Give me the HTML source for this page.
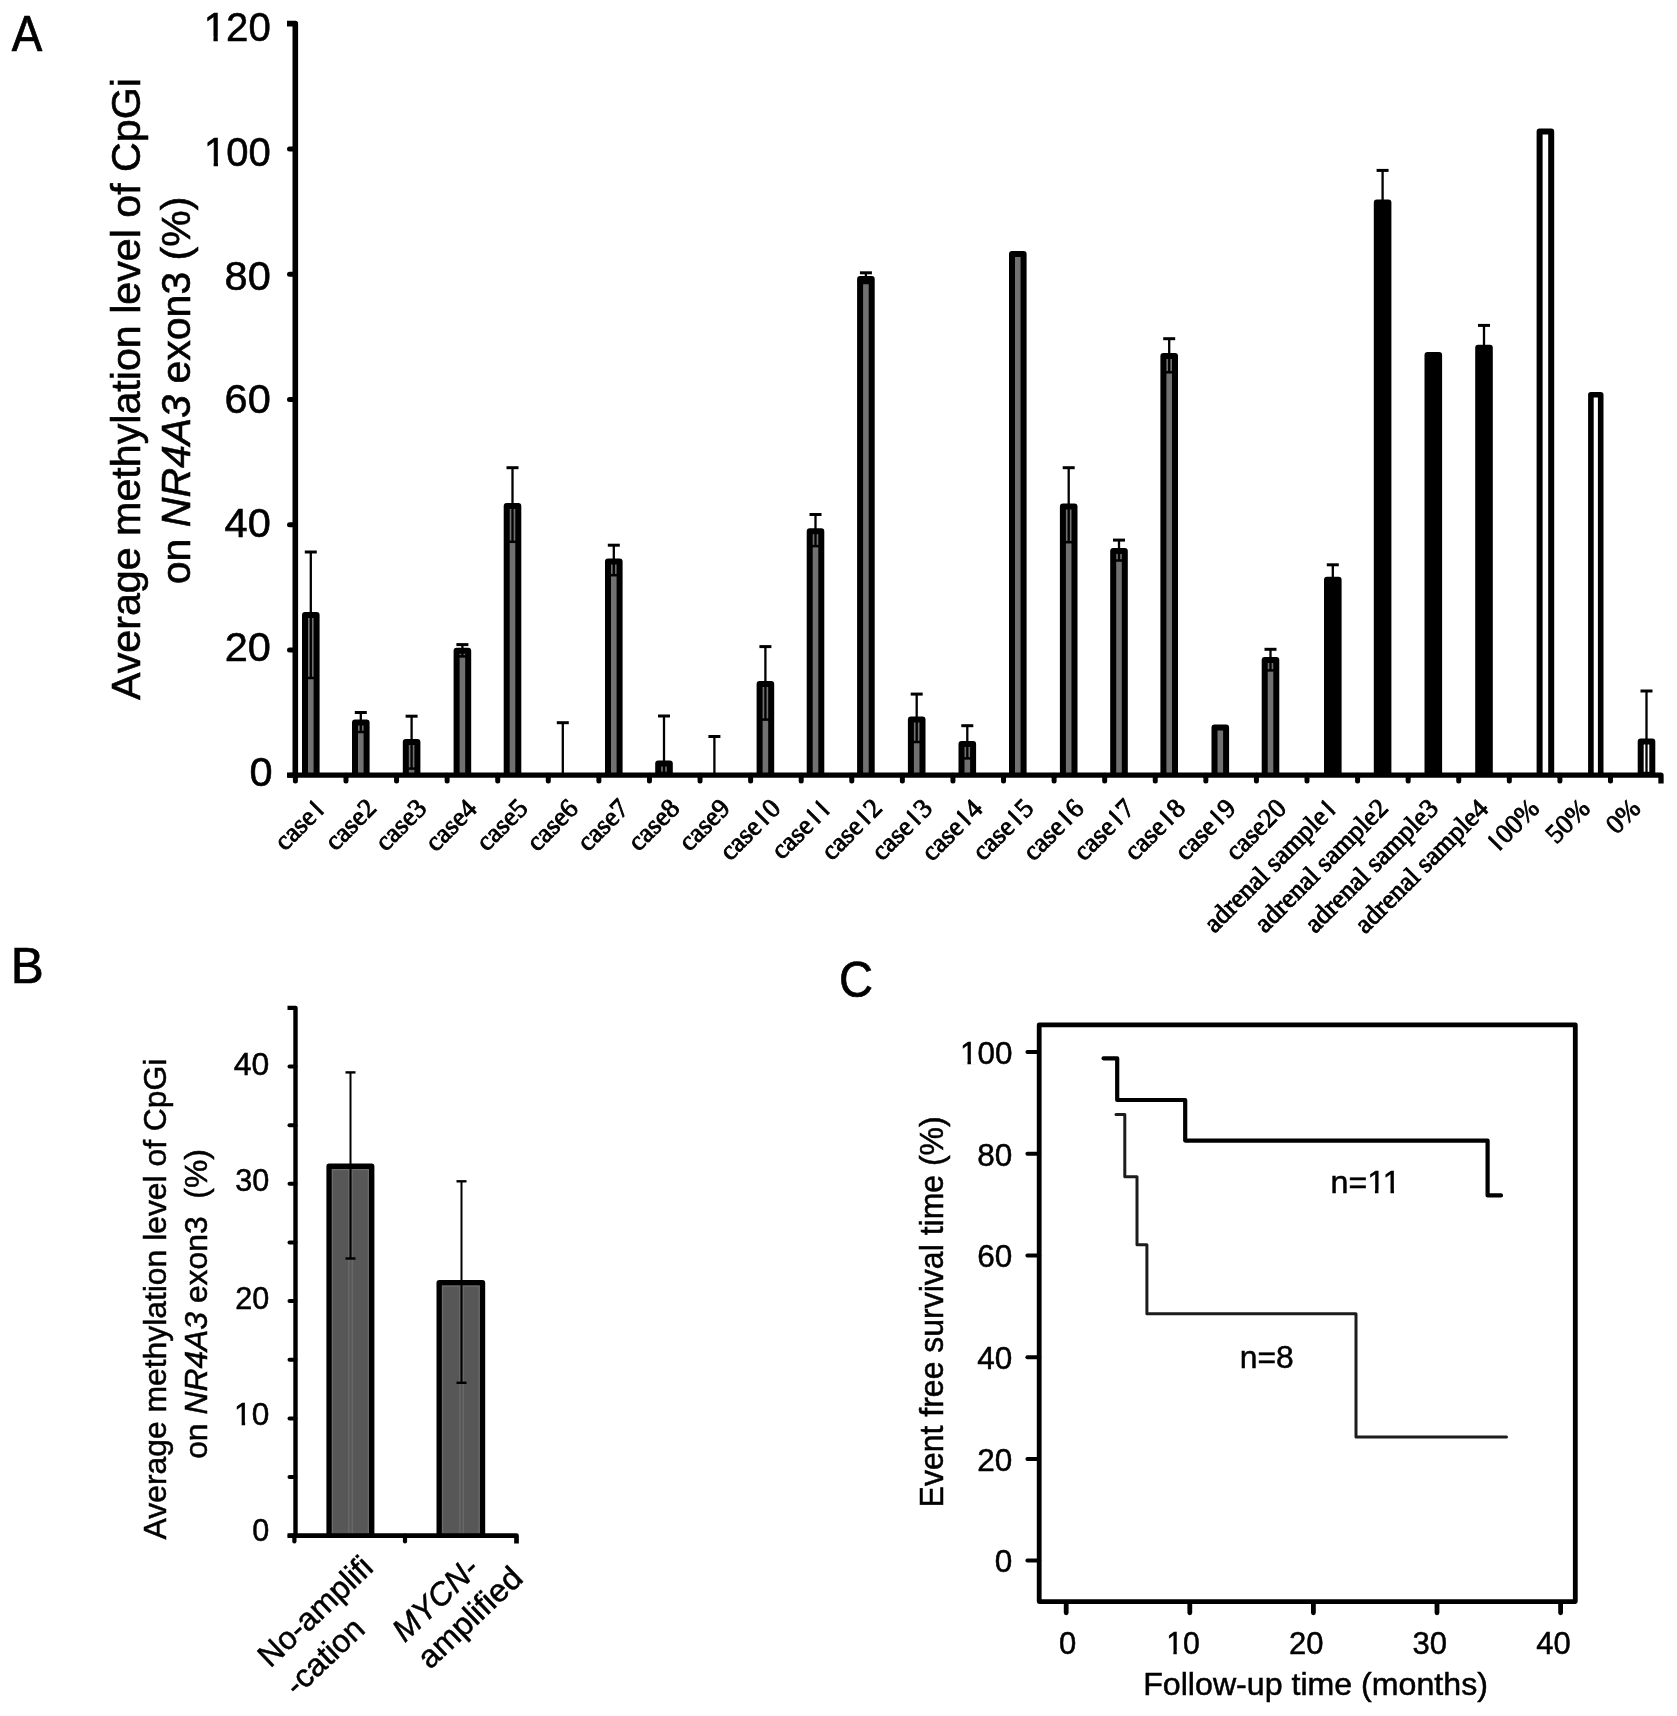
<!DOCTYPE html><html><head><meta charset="utf-8"><title>Figure</title><style>
html,body{margin:0;padding:0;background:#fff;width:1677px;height:1716px;overflow:hidden}
svg{display:block;will-change:transform}
</style></head><body>
<svg width="1677" height="1716" viewBox="0 0 1677 1716">
<rect width="1677" height="1716" fill="#fff"/>
<text transform="translate(11.80,51.00)" x="-0.12" y="0" font-family='"Liberation Sans", sans-serif' font-size="49.20" fill="#000" stroke="#000" stroke-width="0.70" textLength="30.51" lengthAdjust="spacingAndGlyphs" xml:space="preserve">A</text>
<text transform="translate(14.80,983.30)" x="-4.02" y="0" font-family='"Liberation Sans", sans-serif' font-size="49.20" fill="#000" stroke="#000" stroke-width="0.70" textLength="33.04" lengthAdjust="spacingAndGlyphs" xml:space="preserve">B</text>
<text transform="translate(841.40,996.60)" x="-2.39" y="0" font-family='"Liberation Sans", sans-serif' font-size="49.20" fill="#000" stroke="#000" stroke-width="0.70" textLength="34.05" lengthAdjust="spacingAndGlyphs" xml:space="preserve">C</text>
<path d="M287 23.6 H295.3 V778" fill="none" stroke="#000" stroke-width="5.6" stroke-linejoin="round"/>
<line x1="289.5" y1="775.20" x2="295.3" y2="775.20" stroke="#000" stroke-width="5" stroke-linecap="round"/>
<line x1="289.5" y1="649.96" x2="295.3" y2="649.96" stroke="#000" stroke-width="5" stroke-linecap="round"/>
<line x1="289.5" y1="524.72" x2="295.3" y2="524.72" stroke="#000" stroke-width="5" stroke-linecap="round"/>
<line x1="289.5" y1="399.48" x2="295.3" y2="399.48" stroke="#000" stroke-width="5" stroke-linecap="round"/>
<line x1="289.5" y1="274.24" x2="295.3" y2="274.24" stroke="#000" stroke-width="5" stroke-linecap="round"/>
<line x1="289.5" y1="149.00" x2="295.3" y2="149.00" stroke="#000" stroke-width="5" stroke-linecap="round"/>
<path d="M305.00 775.20 V615.00 H316.60 V775.20" fill="#717171" stroke="#000" stroke-width="6.0" stroke-linejoin="round"/>
<line x1="310.80" y1="552.00" x2="310.80" y2="678.00" stroke="#000" stroke-width="2.3"/>
<line x1="304.80" y1="552.00" x2="316.80" y2="552.00" stroke="#000" stroke-width="3"/>
<line x1="306.80" y1="678.00" x2="314.80" y2="678.00" stroke="#000" stroke-width="2.5"/>
<path d="M355.00 775.20 V722.60 H366.60 V775.20" fill="#717171" stroke="#000" stroke-width="6.0" stroke-linejoin="round"/>
<line x1="360.80" y1="712.50" x2="360.80" y2="732.00" stroke="#000" stroke-width="2.3"/>
<line x1="354.80" y1="712.50" x2="366.80" y2="712.50" stroke="#000" stroke-width="3"/>
<line x1="356.80" y1="732.00" x2="364.80" y2="732.00" stroke="#000" stroke-width="2.5"/>
<path d="M405.80 775.20 V742.00 H417.40 V775.20" fill="#717171" stroke="#000" stroke-width="6.0" stroke-linejoin="round"/>
<line x1="411.60" y1="716.20" x2="411.60" y2="768.60" stroke="#000" stroke-width="2.3"/>
<line x1="405.60" y1="716.20" x2="417.60" y2="716.20" stroke="#000" stroke-width="3"/>
<line x1="407.60" y1="768.60" x2="415.60" y2="768.60" stroke="#000" stroke-width="2.5"/>
<path d="M456.60 775.20 V650.80 H468.20 V775.20" fill="#717171" stroke="#000" stroke-width="6.0" stroke-linejoin="round"/>
<line x1="462.40" y1="644.60" x2="462.40" y2="656.40" stroke="#000" stroke-width="2.3"/>
<line x1="456.40" y1="644.60" x2="468.40" y2="644.60" stroke="#000" stroke-width="3"/>
<line x1="458.40" y1="656.40" x2="466.40" y2="656.40" stroke="#000" stroke-width="2.5"/>
<path d="M506.70 775.20 V506.00 H518.30 V775.20" fill="#717171" stroke="#000" stroke-width="6.0" stroke-linejoin="round"/>
<line x1="512.50" y1="467.70" x2="512.50" y2="541.80" stroke="#000" stroke-width="2.3"/>
<line x1="506.50" y1="467.70" x2="518.50" y2="467.70" stroke="#000" stroke-width="3"/>
<line x1="508.50" y1="541.80" x2="516.50" y2="541.80" stroke="#000" stroke-width="2.5"/>
<line x1="562.80" y1="722.70" x2="562.80" y2="775.20" stroke="#000" stroke-width="2.3"/>
<line x1="556.80" y1="722.70" x2="568.80" y2="722.70" stroke="#000" stroke-width="3"/>
<path d="M608.00 775.20 V561.50 H619.60 V775.20" fill="#717171" stroke="#000" stroke-width="6.0" stroke-linejoin="round"/>
<line x1="613.80" y1="545.20" x2="613.80" y2="575.20" stroke="#000" stroke-width="2.3"/>
<line x1="607.80" y1="545.20" x2="619.80" y2="545.20" stroke="#000" stroke-width="3"/>
<line x1="609.80" y1="575.20" x2="617.80" y2="575.20" stroke="#000" stroke-width="2.5"/>
<path d="M658.20 775.20 V763.40 H669.80 V775.20" fill="#717171" stroke="#000" stroke-width="6.0" stroke-linejoin="round"/>
<line x1="664.00" y1="716.00" x2="664.00" y2="773.00" stroke="#000" stroke-width="2.3"/>
<line x1="658.00" y1="716.00" x2="670.00" y2="716.00" stroke="#000" stroke-width="3"/>
<line x1="660.00" y1="773.00" x2="668.00" y2="773.00" stroke="#000" stroke-width="2.5"/>
<line x1="714.40" y1="736.50" x2="714.40" y2="775.20" stroke="#000" stroke-width="2.3"/>
<line x1="708.40" y1="736.50" x2="720.40" y2="736.50" stroke="#000" stroke-width="3"/>
<path d="M759.60 775.20 V683.90 H771.20 V775.20" fill="#717171" stroke="#000" stroke-width="6.0" stroke-linejoin="round"/>
<line x1="765.40" y1="646.60" x2="765.40" y2="719.60" stroke="#000" stroke-width="2.3"/>
<line x1="759.40" y1="646.60" x2="771.40" y2="646.60" stroke="#000" stroke-width="3"/>
<line x1="761.40" y1="719.60" x2="769.40" y2="719.60" stroke="#000" stroke-width="2.5"/>
<path d="M809.70 775.20 V531.20 H821.30 V775.20" fill="#717171" stroke="#000" stroke-width="6.0" stroke-linejoin="round"/>
<line x1="815.50" y1="514.50" x2="815.50" y2="546.10" stroke="#000" stroke-width="2.3"/>
<line x1="809.50" y1="514.50" x2="821.50" y2="514.50" stroke="#000" stroke-width="3"/>
<line x1="811.50" y1="546.10" x2="819.50" y2="546.10" stroke="#000" stroke-width="2.5"/>
<path d="M860.10 775.20 V278.90 H871.70 V775.20" fill="#717171" stroke="#000" stroke-width="6.0" stroke-linejoin="round"/>
<line x1="865.90" y1="272.80" x2="865.90" y2="283.00" stroke="#000" stroke-width="2.3"/>
<line x1="859.90" y1="272.80" x2="871.90" y2="272.80" stroke="#000" stroke-width="3"/>
<line x1="861.90" y1="283.00" x2="869.90" y2="283.00" stroke="#000" stroke-width="2.5"/>
<path d="M910.90 775.20 V719.60 H922.50 V775.20" fill="#717171" stroke="#000" stroke-width="6.0" stroke-linejoin="round"/>
<line x1="916.70" y1="694.10" x2="916.70" y2="742.00" stroke="#000" stroke-width="2.3"/>
<line x1="910.70" y1="694.10" x2="922.70" y2="694.10" stroke="#000" stroke-width="3"/>
<line x1="912.70" y1="742.00" x2="920.70" y2="742.00" stroke="#000" stroke-width="2.5"/>
<path d="M961.50 775.20 V744.00 H973.10 V775.20" fill="#717171" stroke="#000" stroke-width="6.0" stroke-linejoin="round"/>
<line x1="967.30" y1="725.70" x2="967.30" y2="758.40" stroke="#000" stroke-width="2.3"/>
<line x1="961.30" y1="725.70" x2="973.30" y2="725.70" stroke="#000" stroke-width="3"/>
<line x1="963.30" y1="758.40" x2="971.30" y2="758.40" stroke="#000" stroke-width="2.5"/>
<path d="M1012.00 775.20 V254.00 H1023.60 V775.20" fill="#717171" stroke="#000" stroke-width="6.0" stroke-linejoin="round"/>
<path d="M1062.90 775.20 V506.40 H1074.50 V775.20" fill="#717171" stroke="#000" stroke-width="6.0" stroke-linejoin="round"/>
<line x1="1068.70" y1="467.70" x2="1068.70" y2="542.20" stroke="#000" stroke-width="2.3"/>
<line x1="1062.70" y1="467.70" x2="1074.70" y2="467.70" stroke="#000" stroke-width="3"/>
<line x1="1064.70" y1="542.20" x2="1072.70" y2="542.20" stroke="#000" stroke-width="2.5"/>
<path d="M1113.20 775.20 V550.90 H1124.80 V775.20" fill="#717171" stroke="#000" stroke-width="6.0" stroke-linejoin="round"/>
<line x1="1119.00" y1="540.10" x2="1119.00" y2="560.50" stroke="#000" stroke-width="2.3"/>
<line x1="1113.00" y1="540.10" x2="1125.00" y2="540.10" stroke="#000" stroke-width="3"/>
<line x1="1115.00" y1="560.50" x2="1123.00" y2="560.50" stroke="#000" stroke-width="2.5"/>
<path d="M1163.40 775.20 V355.90 H1175.00 V775.20" fill="#717171" stroke="#000" stroke-width="6.0" stroke-linejoin="round"/>
<line x1="1169.20" y1="338.70" x2="1169.20" y2="372.30" stroke="#000" stroke-width="2.3"/>
<line x1="1163.20" y1="338.70" x2="1175.20" y2="338.70" stroke="#000" stroke-width="3"/>
<line x1="1165.20" y1="372.30" x2="1173.20" y2="372.30" stroke="#000" stroke-width="2.5"/>
<path d="M1214.50 775.20 V727.60 H1226.10 V775.20" fill="#717171" stroke="#000" stroke-width="6.0" stroke-linejoin="round"/>
<path d="M1264.70 775.20 V660.00 H1276.30 V775.20" fill="#717171" stroke="#000" stroke-width="6.0" stroke-linejoin="round"/>
<line x1="1270.50" y1="649.30" x2="1270.50" y2="670.40" stroke="#000" stroke-width="2.3"/>
<line x1="1264.50" y1="649.30" x2="1276.50" y2="649.30" stroke="#000" stroke-width="3"/>
<line x1="1266.50" y1="670.40" x2="1274.50" y2="670.40" stroke="#000" stroke-width="2.5"/>
<path d="M1327.00 775.20 V579.70 H1338.60 V775.20" fill="#000" stroke="#000" stroke-width="6.0" stroke-linejoin="round"/>
<line x1="1332.80" y1="564.80" x2="1332.80" y2="582.70" stroke="#000" stroke-width="2.3"/>
<line x1="1326.80" y1="564.80" x2="1338.80" y2="564.80" stroke="#000" stroke-width="3"/>
<path d="M1376.80 775.20 V202.50 H1388.40 V775.20" fill="#000" stroke="#000" stroke-width="6.0" stroke-linejoin="round"/>
<line x1="1382.60" y1="170.40" x2="1382.60" y2="205.50" stroke="#000" stroke-width="2.3"/>
<line x1="1376.60" y1="170.40" x2="1388.60" y2="170.40" stroke="#000" stroke-width="3"/>
<path d="M1427.50 775.20 V354.90 H1439.10 V775.20" fill="#000" stroke="#000" stroke-width="6.0" stroke-linejoin="round"/>
<path d="M1478.20 775.20 V347.70 H1489.80 V775.20" fill="#000" stroke="#000" stroke-width="6.0" stroke-linejoin="round"/>
<line x1="1484.00" y1="325.40" x2="1484.00" y2="350.70" stroke="#000" stroke-width="2.3"/>
<line x1="1478.00" y1="325.40" x2="1490.00" y2="325.40" stroke="#000" stroke-width="3"/>
<path d="M1539.60 775.20 V131.50 H1551.20 V775.20" fill="#fff" stroke="#000" stroke-width="6.0" stroke-linejoin="round"/>
<path d="M1590.90 775.20 V394.80 H1600.70 V775.20" fill="#fff" stroke="#000" stroke-width="5.6" stroke-linejoin="round"/>
<path d="M1640.70 775.20 V741.40 H1652.30 V775.20" fill="#fff" stroke="#000" stroke-width="6.0" stroke-linejoin="round"/>
<line x1="1646.50" y1="691.00" x2="1646.50" y2="773.00" stroke="#000" stroke-width="2.3"/>
<line x1="1640.50" y1="691.00" x2="1652.50" y2="691.00" stroke="#000" stroke-width="3"/>
<line x1="1642.50" y1="773.00" x2="1650.50" y2="773.00" stroke="#000" stroke-width="2.5"/>
<path d="M287 775.20 H1661.0 V783.5" fill="none" stroke="#000" stroke-width="5.3" stroke-linejoin="round"/>
<line x1="295.40" y1="775.2" x2="295.40" y2="781.0" stroke="#000" stroke-width="5" stroke-linecap="round"/>
<line x1="345.98" y1="775.2" x2="345.98" y2="781.0" stroke="#000" stroke-width="5" stroke-linecap="round"/>
<line x1="396.56" y1="775.2" x2="396.56" y2="781.0" stroke="#000" stroke-width="5" stroke-linecap="round"/>
<line x1="447.14" y1="775.2" x2="447.14" y2="781.0" stroke="#000" stroke-width="5" stroke-linecap="round"/>
<line x1="497.72" y1="775.2" x2="497.72" y2="781.0" stroke="#000" stroke-width="5" stroke-linecap="round"/>
<line x1="548.30" y1="775.2" x2="548.30" y2="781.0" stroke="#000" stroke-width="5" stroke-linecap="round"/>
<line x1="598.88" y1="775.2" x2="598.88" y2="781.0" stroke="#000" stroke-width="5" stroke-linecap="round"/>
<line x1="649.46" y1="775.2" x2="649.46" y2="781.0" stroke="#000" stroke-width="5" stroke-linecap="round"/>
<line x1="700.04" y1="775.2" x2="700.04" y2="781.0" stroke="#000" stroke-width="5" stroke-linecap="round"/>
<line x1="750.62" y1="775.2" x2="750.62" y2="781.0" stroke="#000" stroke-width="5" stroke-linecap="round"/>
<line x1="801.20" y1="775.2" x2="801.20" y2="781.0" stroke="#000" stroke-width="5" stroke-linecap="round"/>
<line x1="851.78" y1="775.2" x2="851.78" y2="781.0" stroke="#000" stroke-width="5" stroke-linecap="round"/>
<line x1="902.36" y1="775.2" x2="902.36" y2="781.0" stroke="#000" stroke-width="5" stroke-linecap="round"/>
<line x1="952.94" y1="775.2" x2="952.94" y2="781.0" stroke="#000" stroke-width="5" stroke-linecap="round"/>
<line x1="1003.52" y1="775.2" x2="1003.52" y2="781.0" stroke="#000" stroke-width="5" stroke-linecap="round"/>
<line x1="1054.10" y1="775.2" x2="1054.10" y2="781.0" stroke="#000" stroke-width="5" stroke-linecap="round"/>
<line x1="1104.68" y1="775.2" x2="1104.68" y2="781.0" stroke="#000" stroke-width="5" stroke-linecap="round"/>
<line x1="1155.26" y1="775.2" x2="1155.26" y2="781.0" stroke="#000" stroke-width="5" stroke-linecap="round"/>
<line x1="1205.84" y1="775.2" x2="1205.84" y2="781.0" stroke="#000" stroke-width="5" stroke-linecap="round"/>
<line x1="1256.42" y1="775.2" x2="1256.42" y2="781.0" stroke="#000" stroke-width="5" stroke-linecap="round"/>
<line x1="1307.00" y1="775.2" x2="1307.00" y2="781.0" stroke="#000" stroke-width="5" stroke-linecap="round"/>
<line x1="1357.58" y1="775.2" x2="1357.58" y2="781.0" stroke="#000" stroke-width="5" stroke-linecap="round"/>
<line x1="1408.16" y1="775.2" x2="1408.16" y2="781.0" stroke="#000" stroke-width="5" stroke-linecap="round"/>
<line x1="1458.74" y1="775.2" x2="1458.74" y2="781.0" stroke="#000" stroke-width="5" stroke-linecap="round"/>
<line x1="1509.32" y1="775.2" x2="1509.32" y2="781.0" stroke="#000" stroke-width="5" stroke-linecap="round"/>
<line x1="1559.90" y1="775.2" x2="1559.90" y2="781.0" stroke="#000" stroke-width="5" stroke-linecap="round"/>
<line x1="1610.48" y1="775.2" x2="1610.48" y2="781.0" stroke="#000" stroke-width="5" stroke-linecap="round"/>
<text transform="translate(269.20,40.80)" x="-65.42" y="0" font-family='"Liberation Sans", sans-serif' font-size="41.50" fill="#000" stroke="#000" stroke-width="0.60" textLength="66.99" lengthAdjust="spacingAndGlyphs" xml:space="preserve">120</text>
<rect transform="translate(269.20,40.80)" x="-63.44" y="-4.21" width="7.70" height="5.31" fill="#fff"/>
<rect transform="translate(269.20,40.80)" x="-51.43" y="-4.21" width="7.38" height="5.31" fill="#fff"/>
<text transform="translate(269.20,166.00)" x="-65.21" y="0" font-family='"Liberation Sans", sans-serif' font-size="41.50" fill="#000" stroke="#000" stroke-width="0.60" textLength="66.77" lengthAdjust="spacingAndGlyphs" xml:space="preserve">100</text>
<rect transform="translate(269.20,166.00)" x="-63.23" y="-4.21" width="7.68" height="5.31" fill="#fff"/>
<rect transform="translate(269.20,166.00)" x="-51.26" y="-4.21" width="7.36" height="5.31" fill="#fff"/>
<text transform="translate(269.20,289.50)" x="-44.62" y="0" font-family='"Liberation Sans", sans-serif' font-size="41.50" fill="#000" stroke="#000" stroke-width="0.60" xml:space="preserve">80</text>
<text transform="translate(269.20,413.00)" x="-44.62" y="0" font-family='"Liberation Sans", sans-serif' font-size="41.50" fill="#000" stroke="#000" stroke-width="0.60" xml:space="preserve">60</text>
<text transform="translate(269.20,536.50)" x="-44.62" y="0" font-family='"Liberation Sans", sans-serif' font-size="41.50" fill="#000" stroke="#000" stroke-width="0.60" xml:space="preserve">40</text>
<text transform="translate(269.30,661.30)" x="-44.62" y="0" font-family='"Liberation Sans", sans-serif' font-size="41.50" fill="#000" stroke="#000" stroke-width="0.60" xml:space="preserve">20</text>
<text transform="translate(270.90,785.60)" x="-21.50" y="0" font-family='"Liberation Sans", sans-serif' font-size="41.50" fill="#000" stroke="#000" stroke-width="0.60" xml:space="preserve">0</text>
<text transform="translate(139.60,699.90) rotate(-90)" x="-0.12" y="0" font-family='"Liberation Sans", sans-serif' font-size="41.40" fill="#000" stroke="#000" stroke-width="0.60" textLength="621.91" lengthAdjust="spacingAndGlyphs" xml:space="preserve">Average methylation level of CpGi</text>
<text transform="translate(190.10,582.50) rotate(-90)" x="-1.74" y="0" font-family='"Liberation Sans", sans-serif' font-size="41.40" fill="#000" stroke="#000" stroke-width="0.60" textLength="387.68" lengthAdjust="spacingAndGlyphs" xml:space="preserve">on <tspan font-style="italic">NR4A3</tspan> exon3 (%)</text>
<text transform="translate(326.19,810.50) rotate(-45)" x="-58.38" y="0" font-family='"Liberation Serif", serif' font-size="27.00" fill="#000" stroke="#000" stroke-width="0.90" xml:space="preserve">case1</text>
<rect transform="translate(326.19,810.50) rotate(-45)" x="-10.79" y="-2.33" width="4.32" height="3.58" fill="#fff"/>
<rect transform="translate(326.19,810.50) rotate(-45)" x="-3.13" y="-2.33" width="4.32" height="3.58" fill="#fff"/>
<rect transform="translate(326.19,810.50) rotate(-45)" x="-12.08" y="-20.15" width="5.61" height="6.92" fill="#fff"/>
<text transform="translate(376.77,810.50) rotate(-45)" x="-58.50" y="0" font-family='"Liberation Serif", serif' font-size="27.00" fill="#000" stroke="#000" stroke-width="0.90" xml:space="preserve">case2</text>
<text transform="translate(427.35,810.50) rotate(-45)" x="-59.00" y="0" font-family='"Liberation Serif", serif' font-size="27.00" fill="#000" stroke="#000" stroke-width="0.90" xml:space="preserve">case3</text>
<text transform="translate(477.93,810.50) rotate(-45)" x="-59.62" y="0" font-family='"Liberation Serif", serif' font-size="27.00" fill="#000" stroke="#000" stroke-width="0.90" xml:space="preserve">case4</text>
<text transform="translate(528.51,810.50) rotate(-45)" x="-59.00" y="0" font-family='"Liberation Serif", serif' font-size="27.00" fill="#000" stroke="#000" stroke-width="0.90" xml:space="preserve">case5</text>
<text transform="translate(579.09,810.50) rotate(-45)" x="-59.25" y="0" font-family='"Liberation Serif", serif' font-size="27.00" fill="#000" stroke="#000" stroke-width="0.90" xml:space="preserve">case6</text>
<text transform="translate(629.67,810.50) rotate(-45)" x="-59.25" y="0" font-family='"Liberation Serif", serif' font-size="27.00" fill="#000" stroke="#000" stroke-width="0.90" xml:space="preserve">case7</text>
<text transform="translate(680.25,810.50) rotate(-45)" x="-59.00" y="0" font-family='"Liberation Serif", serif' font-size="27.00" fill="#000" stroke="#000" stroke-width="0.90" xml:space="preserve">case8</text>
<text transform="translate(730.83,810.50) rotate(-45)" x="-58.88" y="0" font-family='"Liberation Serif", serif' font-size="27.00" fill="#000" stroke="#000" stroke-width="0.90" xml:space="preserve">case9</text>
<text transform="translate(781.41,810.50) rotate(-45)" x="-72.50" y="0" font-family='"Liberation Serif", serif' font-size="27.00" fill="#000" stroke="#000" stroke-width="0.90" xml:space="preserve">case10</text>
<rect transform="translate(781.41,810.50) rotate(-45)" x="-24.91" y="-2.33" width="4.32" height="3.58" fill="#fff"/>
<rect transform="translate(781.41,810.50) rotate(-45)" x="-17.25" y="-2.33" width="4.32" height="3.58" fill="#fff"/>
<rect transform="translate(781.41,810.50) rotate(-45)" x="-26.21" y="-20.15" width="5.61" height="6.92" fill="#fff"/>
<text transform="translate(831.99,810.50) rotate(-45)" x="-70.88" y="0" font-family='"Liberation Serif", serif' font-size="27.00" fill="#000" stroke="#000" stroke-width="0.90" xml:space="preserve">case11</text>
<rect transform="translate(831.99,810.50) rotate(-45)" x="-23.29" y="-2.33" width="4.32" height="3.58" fill="#fff"/>
<rect transform="translate(831.99,810.50) rotate(-45)" x="-15.63" y="-2.33" width="4.32" height="3.58" fill="#fff"/>
<rect transform="translate(831.99,810.50) rotate(-45)" x="-24.58" y="-20.15" width="5.61" height="6.92" fill="#fff"/>
<rect transform="translate(831.99,810.50) rotate(-45)" x="-10.79" y="-2.33" width="4.32" height="3.58" fill="#fff"/>
<rect transform="translate(831.99,810.50) rotate(-45)" x="-3.13" y="-2.33" width="4.32" height="3.58" fill="#fff"/>
<rect transform="translate(831.99,810.50) rotate(-45)" x="-12.09" y="-20.15" width="5.61" height="6.92" fill="#fff"/>
<text transform="translate(882.57,810.50) rotate(-45)" x="-72.00" y="0" font-family='"Liberation Serif", serif' font-size="27.00" fill="#000" stroke="#000" stroke-width="0.90" xml:space="preserve">case12</text>
<rect transform="translate(882.57,810.50) rotate(-45)" x="-24.41" y="-2.33" width="4.32" height="3.58" fill="#fff"/>
<rect transform="translate(882.57,810.50) rotate(-45)" x="-16.75" y="-2.33" width="4.32" height="3.58" fill="#fff"/>
<rect transform="translate(882.57,810.50) rotate(-45)" x="-25.71" y="-20.15" width="5.61" height="6.92" fill="#fff"/>
<text transform="translate(933.15,810.50) rotate(-45)" x="-72.50" y="0" font-family='"Liberation Serif", serif' font-size="27.00" fill="#000" stroke="#000" stroke-width="0.90" xml:space="preserve">case13</text>
<rect transform="translate(933.15,810.50) rotate(-45)" x="-24.91" y="-2.33" width="4.32" height="3.58" fill="#fff"/>
<rect transform="translate(933.15,810.50) rotate(-45)" x="-17.25" y="-2.33" width="4.32" height="3.58" fill="#fff"/>
<rect transform="translate(933.15,810.50) rotate(-45)" x="-26.21" y="-20.15" width="5.61" height="6.92" fill="#fff"/>
<text transform="translate(983.73,810.50) rotate(-45)" x="-73.12" y="0" font-family='"Liberation Serif", serif' font-size="27.00" fill="#000" stroke="#000" stroke-width="0.90" xml:space="preserve">case14</text>
<rect transform="translate(983.73,810.50) rotate(-45)" x="-25.54" y="-2.33" width="4.32" height="3.58" fill="#fff"/>
<rect transform="translate(983.73,810.50) rotate(-45)" x="-17.88" y="-2.33" width="4.32" height="3.58" fill="#fff"/>
<rect transform="translate(983.73,810.50) rotate(-45)" x="-26.83" y="-20.15" width="5.61" height="6.92" fill="#fff"/>
<text transform="translate(1034.31,810.50) rotate(-45)" x="-72.50" y="0" font-family='"Liberation Serif", serif' font-size="27.00" fill="#000" stroke="#000" stroke-width="0.90" xml:space="preserve">case15</text>
<rect transform="translate(1034.31,810.50) rotate(-45)" x="-24.91" y="-2.33" width="4.32" height="3.58" fill="#fff"/>
<rect transform="translate(1034.31,810.50) rotate(-45)" x="-17.25" y="-2.33" width="4.32" height="3.58" fill="#fff"/>
<rect transform="translate(1034.31,810.50) rotate(-45)" x="-26.21" y="-20.15" width="5.61" height="6.92" fill="#fff"/>
<text transform="translate(1084.89,810.50) rotate(-45)" x="-72.75" y="0" font-family='"Liberation Serif", serif' font-size="27.00" fill="#000" stroke="#000" stroke-width="0.90" xml:space="preserve">case16</text>
<rect transform="translate(1084.89,810.50) rotate(-45)" x="-25.16" y="-2.33" width="4.32" height="3.58" fill="#fff"/>
<rect transform="translate(1084.89,810.50) rotate(-45)" x="-17.50" y="-2.33" width="4.32" height="3.58" fill="#fff"/>
<rect transform="translate(1084.89,810.50) rotate(-45)" x="-26.46" y="-20.15" width="5.61" height="6.92" fill="#fff"/>
<text transform="translate(1135.47,810.50) rotate(-45)" x="-72.75" y="0" font-family='"Liberation Serif", serif' font-size="27.00" fill="#000" stroke="#000" stroke-width="0.90" xml:space="preserve">case17</text>
<rect transform="translate(1135.47,810.50) rotate(-45)" x="-25.16" y="-2.33" width="4.32" height="3.58" fill="#fff"/>
<rect transform="translate(1135.47,810.50) rotate(-45)" x="-17.50" y="-2.33" width="4.32" height="3.58" fill="#fff"/>
<rect transform="translate(1135.47,810.50) rotate(-45)" x="-26.46" y="-20.15" width="5.61" height="6.92" fill="#fff"/>
<text transform="translate(1186.05,810.50) rotate(-45)" x="-72.50" y="0" font-family='"Liberation Serif", serif' font-size="27.00" fill="#000" stroke="#000" stroke-width="0.90" xml:space="preserve">case18</text>
<rect transform="translate(1186.05,810.50) rotate(-45)" x="-24.91" y="-2.33" width="4.32" height="3.58" fill="#fff"/>
<rect transform="translate(1186.05,810.50) rotate(-45)" x="-17.25" y="-2.33" width="4.32" height="3.58" fill="#fff"/>
<rect transform="translate(1186.05,810.50) rotate(-45)" x="-26.21" y="-20.15" width="5.61" height="6.92" fill="#fff"/>
<text transform="translate(1236.63,810.50) rotate(-45)" x="-72.38" y="0" font-family='"Liberation Serif", serif' font-size="27.00" fill="#000" stroke="#000" stroke-width="0.90" xml:space="preserve">case19</text>
<rect transform="translate(1236.63,810.50) rotate(-45)" x="-24.79" y="-2.33" width="4.32" height="3.58" fill="#fff"/>
<rect transform="translate(1236.63,810.50) rotate(-45)" x="-17.13" y="-2.33" width="4.32" height="3.58" fill="#fff"/>
<rect transform="translate(1236.63,810.50) rotate(-45)" x="-26.08" y="-20.15" width="5.61" height="6.92" fill="#fff"/>
<text transform="translate(1287.21,810.50) rotate(-45)" x="-72.50" y="0" font-family='"Liberation Serif", serif' font-size="27.00" fill="#000" stroke="#000" stroke-width="0.90" xml:space="preserve">case20</text>
<text transform="translate(1337.79,810.50) rotate(-45)" x="-174.50" y="0" font-family='"Liberation Serif", serif' font-size="27.00" fill="#000" stroke="#000" stroke-width="0.90" xml:space="preserve">adrenal sample1</text>
<rect transform="translate(1337.79,810.50) rotate(-45)" x="-10.70" y="-2.33" width="4.32" height="3.58" fill="#fff"/>
<rect transform="translate(1337.79,810.50) rotate(-45)" x="-3.04" y="-2.33" width="4.32" height="3.58" fill="#fff"/>
<rect transform="translate(1337.79,810.50) rotate(-45)" x="-11.99" y="-20.15" width="5.61" height="6.92" fill="#fff"/>
<text transform="translate(1388.37,810.50) rotate(-45)" x="-174.62" y="0" font-family='"Liberation Serif", serif' font-size="27.00" fill="#000" stroke="#000" stroke-width="0.90" xml:space="preserve">adrenal sample2</text>
<text transform="translate(1438.95,810.50) rotate(-45)" x="-175.12" y="0" font-family='"Liberation Serif", serif' font-size="27.00" fill="#000" stroke="#000" stroke-width="0.90" xml:space="preserve">adrenal sample3</text>
<text transform="translate(1489.53,810.50) rotate(-45)" x="-175.75" y="0" font-family='"Liberation Serif", serif' font-size="27.00" fill="#000" stroke="#000" stroke-width="0.90" xml:space="preserve">adrenal sample4</text>
<text transform="translate(1540.11,810.50) rotate(-45)" x="-62.12" y="0" font-family='"Liberation Serif", serif' font-size="27.00" fill="#000" stroke="#000" stroke-width="0.90" xml:space="preserve">100%</text>
<rect transform="translate(1540.11,810.50) rotate(-45)" x="-61.00" y="-2.33" width="4.32" height="3.58" fill="#fff"/>
<rect transform="translate(1540.11,810.50) rotate(-45)" x="-53.34" y="-2.33" width="4.32" height="3.58" fill="#fff"/>
<rect transform="translate(1540.11,810.50) rotate(-45)" x="-62.30" y="-20.15" width="5.61" height="6.92" fill="#fff"/>
<text transform="translate(1590.69,810.50) rotate(-45)" x="-48.62" y="0" font-family='"Liberation Serif", serif' font-size="27.00" fill="#000" stroke="#000" stroke-width="0.90" xml:space="preserve">50%</text>
<text transform="translate(1641.27,810.50) rotate(-45)" x="-35.12" y="0" font-family='"Liberation Serif", serif' font-size="27.00" fill="#000" stroke="#000" stroke-width="0.90" xml:space="preserve">0%</text>
<path d="M287.5 1007.85 H295.5 V1538" fill="none" stroke="#000" stroke-width="4.4" stroke-linejoin="round"/>
<line x1="289.5" y1="1535.70" x2="295.5" y2="1535.70" stroke="#000" stroke-width="4" stroke-linecap="round"/>
<line x1="289.5" y1="1477.05" x2="295.5" y2="1477.05" stroke="#000" stroke-width="4" stroke-linecap="round"/>
<line x1="289.5" y1="1418.40" x2="295.5" y2="1418.40" stroke="#000" stroke-width="4" stroke-linecap="round"/>
<line x1="289.5" y1="1359.75" x2="295.5" y2="1359.75" stroke="#000" stroke-width="4" stroke-linecap="round"/>
<line x1="289.5" y1="1301.10" x2="295.5" y2="1301.10" stroke="#000" stroke-width="4" stroke-linecap="round"/>
<line x1="289.5" y1="1242.45" x2="295.5" y2="1242.45" stroke="#000" stroke-width="4" stroke-linecap="round"/>
<line x1="289.5" y1="1183.80" x2="295.5" y2="1183.80" stroke="#000" stroke-width="4" stroke-linecap="round"/>
<line x1="289.5" y1="1125.15" x2="295.5" y2="1125.15" stroke="#000" stroke-width="4" stroke-linecap="round"/>
<line x1="289.5" y1="1066.50" x2="295.5" y2="1066.50" stroke="#000" stroke-width="4" stroke-linecap="round"/>
<path d="M329.10 1535.70 V1166.30 H371.70 V1535.70" fill="#575757" stroke="#000" stroke-width="5.4" stroke-linejoin="round"/>
<path d="M332.45 1533.30 V1169.65 H368.35 V1533.30" fill="none" stroke="#6c6c6c" stroke-width="1.3"/>
<path d="M439.20 1535.70 V1282.70 H482.50 V1535.70" fill="#575757" stroke="#000" stroke-width="5.4" stroke-linejoin="round"/>
<path d="M442.55 1533.30 V1286.05 H479.15 V1533.30" fill="none" stroke="#6c6c6c" stroke-width="1.3"/>
<line x1="348.8" y1="1169.6" x2="348.8" y2="1533.3" stroke="#6c6c6c" stroke-width="1.2"/>
<line x1="352.2" y1="1169.6" x2="352.2" y2="1533.3" stroke="#6c6c6c" stroke-width="1.2"/>
<line x1="350.5" y1="1072.4" x2="350.5" y2="1258.5" stroke="#000" stroke-width="2"/>
<line x1="345.5" y1="1072.4" x2="355.5" y2="1072.4" stroke="#000" stroke-width="2.4"/>
<line x1="345.5" y1="1258.5" x2="355.5" y2="1258.5" stroke="#000" stroke-width="2.4"/>
<line x1="459.8" y1="1286.0" x2="459.8" y2="1533.3" stroke="#6c6c6c" stroke-width="1.2"/>
<line x1="463.2" y1="1286.0" x2="463.2" y2="1533.3" stroke="#6c6c6c" stroke-width="1.2"/>
<line x1="461.5" y1="1181.3" x2="461.5" y2="1382.8" stroke="#000" stroke-width="2"/>
<line x1="456.5" y1="1181.3" x2="466.5" y2="1181.3" stroke="#000" stroke-width="2.4"/>
<line x1="456.5" y1="1382.8" x2="466.5" y2="1382.8" stroke="#000" stroke-width="2.4"/>
<path d="M287.5 1535.70 H516.5 V1543.5" fill="none" stroke="#000" stroke-width="4.7" stroke-linejoin="round"/>
<line x1="294.4" y1="1535.7" x2="294.4" y2="1541.4" stroke="#000" stroke-width="4.2" stroke-linecap="round"/>
<line x1="405.0" y1="1535.7" x2="405.0" y2="1541.4" stroke="#000" stroke-width="4.2" stroke-linecap="round"/>
<text transform="translate(268.00,1074.60)" x="-34.28" y="0" font-family='"Liberation Sans", sans-serif' font-size="30.60" fill="#000" stroke="#000" stroke-width="0.50" textLength="35.52" lengthAdjust="spacingAndGlyphs" xml:space="preserve">40</text>
<text transform="translate(268.00,1191.00)" x="-32.85" y="0" font-family='"Liberation Sans", sans-serif' font-size="30.60" fill="#000" stroke="#000" stroke-width="0.50" xml:space="preserve">30</text>
<text transform="translate(268.00,1308.50)" x="-32.85" y="0" font-family='"Liberation Sans", sans-serif' font-size="30.60" fill="#000" stroke="#000" stroke-width="0.50" xml:space="preserve">20</text>
<text transform="translate(268.00,1425.30)" x="-33.95" y="0" font-family='"Liberation Sans", sans-serif' font-size="30.60" fill="#000" stroke="#000" stroke-width="0.50" textLength="35.18" lengthAdjust="spacingAndGlyphs" xml:space="preserve">10</text>
<rect transform="translate(268.00,1425.30)" x="-32.63" y="-3.34" width="6.26" height="4.39" fill="#fff"/>
<rect transform="translate(268.00,1425.30)" x="-22.87" y="-3.34" width="6.01" height="4.39" fill="#fff"/>
<text transform="translate(268.00,1541.20)" x="-15.86" y="0" font-family='"Liberation Sans", sans-serif' font-size="30.60" fill="#000" stroke="#000" stroke-width="0.50" xml:space="preserve">0</text>
<text transform="translate(166.40,1539.30) rotate(-90)" x="-0.12" y="0" font-family='"Liberation Sans", sans-serif' font-size="32.00" fill="#000" stroke="#000" stroke-width="0.50" textLength="480.81" lengthAdjust="spacingAndGlyphs" xml:space="preserve">Average methylation level of CpGi</text>
<text transform="translate(207.30,1457.50) rotate(-90)" x="-1.37" y="0" font-family='"Liberation Sans", sans-serif' font-size="32.00" fill="#000" stroke="#000" stroke-width="0.50" textLength="309.76" lengthAdjust="spacingAndGlyphs" xml:space="preserve">on <tspan font-style="italic">NR4A3</tspan> exon3  (%)</text>
<text transform="translate(272.24,1666.96) rotate(-43.5)" x="-2.62" y="0" font-family='"Liberation Sans", sans-serif' font-size="32.00" fill="#000" stroke="#000" stroke-width="0.50" xml:space="preserve">No-amplifi</text>
<text transform="translate(298.00,1696.40) rotate(-43.5)" x="-1.38" y="0" font-family='"Liberation Sans", sans-serif' font-size="32.00" fill="#000" stroke="#000" stroke-width="0.50" xml:space="preserve">-cation</text>
<text transform="translate(405.50,1642.50) rotate(-43.5)" x="-1.00" y="0" font-family='"Liberation Sans", sans-serif' font-style="italic" font-size="32.00" fill="#000" stroke="#000" stroke-width="0.50" xml:space="preserve">MYCN<tspan>-</tspan></text>
<text transform="translate(431.00,1669.20) rotate(-43.5)" x="-1.40" y="0" font-family='"Liberation Sans", sans-serif' font-size="32.00" fill="#000" stroke="#000" stroke-width="0.50" textLength="130.50" lengthAdjust="spacingAndGlyphs" xml:space="preserve">amplified</text>
<rect x="1039.2" y="1024.9" width="536.1" height="576.7" fill="none" stroke="#000" stroke-width="4.8" stroke-linejoin="round"/>
<line x1="1027.4" y1="1560.60" x2="1039.2" y2="1560.60" stroke="#000" stroke-width="4.0" stroke-linecap="round"/>
<text transform="translate(1011.10,1572.30)" x="-16.25" y="0" font-family='"Liberation Sans", sans-serif' font-size="31.50" fill="#000" stroke="#000" stroke-width="0.50" xml:space="preserve">0</text>
<line x1="1027.4" y1="1458.90" x2="1039.2" y2="1458.90" stroke="#000" stroke-width="4.0" stroke-linecap="round"/>
<text transform="translate(1011.10,1470.60)" x="-33.75" y="0" font-family='"Liberation Sans", sans-serif' font-size="31.50" fill="#000" stroke="#000" stroke-width="0.50" xml:space="preserve">20</text>
<line x1="1027.4" y1="1357.20" x2="1039.2" y2="1357.20" stroke="#000" stroke-width="4.0" stroke-linecap="round"/>
<text transform="translate(1011.10,1368.90)" x="-33.75" y="0" font-family='"Liberation Sans", sans-serif' font-size="31.50" fill="#000" stroke="#000" stroke-width="0.50" xml:space="preserve">40</text>
<line x1="1027.4" y1="1255.50" x2="1039.2" y2="1255.50" stroke="#000" stroke-width="4.0" stroke-linecap="round"/>
<text transform="translate(1011.10,1267.20)" x="-33.75" y="0" font-family='"Liberation Sans", sans-serif' font-size="31.50" fill="#000" stroke="#000" stroke-width="0.50" xml:space="preserve">60</text>
<line x1="1027.4" y1="1153.80" x2="1039.2" y2="1153.80" stroke="#000" stroke-width="4.0" stroke-linecap="round"/>
<text transform="translate(1011.10,1165.50)" x="-33.75" y="0" font-family='"Liberation Sans", sans-serif' font-size="31.50" fill="#000" stroke="#000" stroke-width="0.50" xml:space="preserve">80</text>
<line x1="1027.4" y1="1052.10" x2="1039.2" y2="1052.10" stroke="#000" stroke-width="4.0" stroke-linecap="round"/>
<text transform="translate(1011.10,1063.80)" x="-51.17" y="0" font-family='"Liberation Sans", sans-serif' font-size="31.50" fill="#000" stroke="#000" stroke-width="0.50" textLength="52.48" lengthAdjust="spacingAndGlyphs" xml:space="preserve">100</text>
<rect transform="translate(1011.10,1063.80)" x="-49.83" y="-3.41" width="6.20" height="4.46" fill="#fff"/>
<rect transform="translate(1011.10,1063.80)" x="-40.16" y="-3.41" width="5.95" height="4.46" fill="#fff"/>
<line x1="1066.20" y1="1603.4" x2="1066.20" y2="1612.8" stroke="#000" stroke-width="4.8" stroke-linecap="round"/>
<text transform="translate(1075.00,1654.00)" x="-16.00" y="0" font-family='"Liberation Sans", sans-serif' font-size="31.00" fill="#000" stroke="#000" stroke-width="0.50" xml:space="preserve">0</text>
<line x1="1189.80" y1="1603.4" x2="1189.80" y2="1612.8" stroke="#000" stroke-width="4.8" stroke-linecap="round"/>
<text transform="translate(1198.60,1654.00)" x="-32.42" y="0" font-family='"Liberation Sans", sans-serif' font-size="31.00" fill="#000" stroke="#000" stroke-width="0.50" textLength="33.61" lengthAdjust="spacingAndGlyphs" xml:space="preserve">10</text>
<rect transform="translate(1198.60,1654.00)" x="-31.14" y="-3.38" width="5.97" height="4.42" fill="#fff"/>
<rect transform="translate(1198.60,1654.00)" x="-21.83" y="-3.38" width="5.73" height="4.42" fill="#fff"/>
<line x1="1313.40" y1="1603.4" x2="1313.40" y2="1612.8" stroke="#000" stroke-width="4.8" stroke-linecap="round"/>
<text transform="translate(1322.20,1654.00)" x="-33.25" y="0" font-family='"Liberation Sans", sans-serif' font-size="31.00" fill="#000" stroke="#000" stroke-width="0.50" xml:space="preserve">20</text>
<line x1="1437.00" y1="1603.4" x2="1437.00" y2="1612.8" stroke="#000" stroke-width="4.8" stroke-linecap="round"/>
<text transform="translate(1445.80,1654.00)" x="-33.25" y="0" font-family='"Liberation Sans", sans-serif' font-size="31.00" fill="#000" stroke="#000" stroke-width="0.50" xml:space="preserve">30</text>
<line x1="1560.60" y1="1603.4" x2="1560.60" y2="1612.8" stroke="#000" stroke-width="4.8" stroke-linecap="round"/>
<text transform="translate(1569.40,1654.00)" x="-33.25" y="0" font-family='"Liberation Sans", sans-serif' font-size="31.00" fill="#000" stroke="#000" stroke-width="0.50" xml:space="preserve">40</text>
<path d="M1103.5 1058.3 H1117.2 V1100 H1185.2 V1140.6 H1487.6 V1195.4 H1501" fill="none" stroke="#000" stroke-width="4.2" stroke-linejoin="round" stroke-linecap="round"/>
<path d="M1116 1114.6 H1124.8 V1176.8 H1137 V1244.8 H1146.9 V1313.7 H1356 V1437 H1506.5" fill="none" stroke="#1c1c1c" stroke-width="3" stroke-linejoin="round" stroke-linecap="round"/>
<text transform="translate(1332.60,1193.30)" x="-2.12" y="0" font-family='"Liberation Sans", sans-serif' font-size="32.20" fill="#000" stroke="#000" stroke-width="0.50" xml:space="preserve">n=11</text>
<rect transform="translate(1332.60,1193.30)" x="35.99" y="-3.46" width="6.33" height="4.51" fill="#fff"/>
<rect transform="translate(1332.60,1193.30)" x="45.86" y="-3.46" width="6.08" height="4.51" fill="#fff"/>
<rect transform="translate(1332.60,1193.30)" x="51.51" y="-3.46" width="6.33" height="4.51" fill="#fff"/>
<rect transform="translate(1332.60,1193.30)" x="61.38" y="-3.46" width="6.08" height="4.51" fill="#fff"/>
<text transform="translate(1241.80,1367.70)" x="-2.05" y="0" font-family='"Liberation Sans", sans-serif' font-size="31.00" fill="#000" stroke="#000" stroke-width="0.50" textLength="53.92" lengthAdjust="spacingAndGlyphs" xml:space="preserve">n=8</text>
<text transform="translate(943.30,1504.80) rotate(-90)" x="-2.58" y="0" font-family='"Liberation Sans", sans-serif' font-size="32.50" fill="#000" stroke="#000" stroke-width="0.50" textLength="391.10" lengthAdjust="spacingAndGlyphs" xml:space="preserve">Event free survival time (%)</text>
<text transform="translate(1145.90,1695.00)" x="-2.68" y="0" font-family='"Liberation Sans", sans-serif' font-size="31.50" fill="#000" stroke="#000" stroke-width="0.50" textLength="344.69" lengthAdjust="spacingAndGlyphs" xml:space="preserve">Follow-up time (months)</text>
</svg></body></html>
